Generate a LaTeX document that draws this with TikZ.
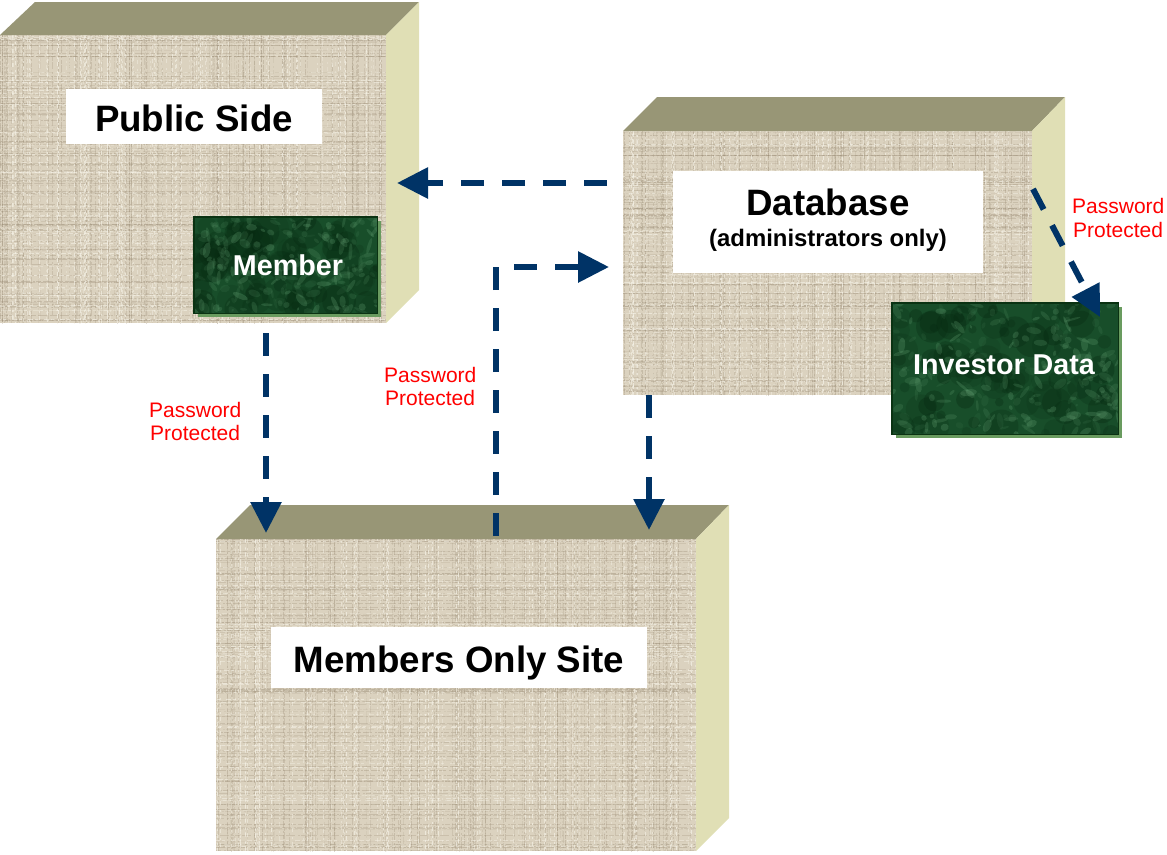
\documentclass[tikz,border=0pt]{standalone}
\usepackage{fontspec}
\setmainfont{Liberation Sans}
\usetikzlibrary{arrows.meta}
\definecolor{linenbase}{RGB}{219,210,191}
\definecolor{linendark}{RGB}{150,135,112}
\definecolor{linenlight}{RGB}{246,243,232}
\definecolor{topface}{RGB}{152,150,118}
\definecolor{sideface}{RGB}{224,223,181}
\definecolor{navy}{RGB}{0,51,102}
\definecolor{dkgreen}{RGB}{24,78,42}
\definecolor{ltgreen}{RGB}{95,155,110}
\definecolor{blackgreen}{RGB}{6,40,16}
\definecolor{shadowgreen}{RGB}{105,155,95}
\definecolor{edgegreen}{RGB}{10,50,18}
\definecolor{pwred}{RGB}{255,0,0}

\newcommand\linentexture[5]{%
  \begin{scope}
    \clip (#1,#2) rectangle (#3,#4);
    \pgfmathsetseed{#5}
    \foreach \i in {1,...,140}{
      \pgfmathsetmacro\xx{#1+rnd*(#3-#1)}
      \pgfmathsetmacro\op{0.08+0.24*rnd}
      \pgfmathsetmacro\ph{rnd*20}
      \draw[linendark, line width=0.8pt, opacity=\op,
            dash pattern=on 7pt off 3pt on 2pt off 2pt on 4pt off 1pt, dash phase=\ph pt]
            (\xx,#2) -- (\xx,#4);
    }
    \foreach \i in {1,...,120}{
      \pgfmathsetmacro\yy{#2+rnd*(#4-#2)}
      \pgfmathsetmacro\op{0.08+0.24*rnd}
      \pgfmathsetmacro\ph{rnd*20}
      \draw[linendark, line width=0.8pt, opacity=\op,
            dash pattern=on 5pt off 2pt on 9pt off 3pt on 2pt off 1pt, dash phase=\ph pt]
            (#1,\yy) -- (#3,\yy);
    }
    \foreach \i in {1,...,110}{
      \pgfmathsetmacro\xx{#1+rnd*(#3-#1)}
      \pgfmathsetmacro\op{0.25+0.45*rnd}
      \pgfmathsetmacro\ph{rnd*20}
      \draw[linenlight, line width=0.8pt, opacity=\op,
            dash pattern=on 4pt off 5pt on 2pt off 3pt, dash phase=\ph pt]
            (\xx,#2) -- (\xx,#4);
    }
    \foreach \i in {1,...,60}{
      \pgfmathsetmacro\yy{#2+rnd*(#4-#2)}
      \pgfmathsetmacro\op{0.20+0.40*rnd}
      \pgfmathsetmacro\ph{rnd*20}
      \draw[linenlight, line width=0.8pt, opacity=\op,
            dash pattern=on 3pt off 6pt on 5pt off 2pt, dash phase=\ph pt]
            (#1,\yy) -- (#3,\yy);
    }
  \end{scope}}

\newcommand\greentexture[5]{%
  \begin{scope}
    \clip (#1,#2) rectangle (#3,#4);
    \pgfmathsetseed{#5}
    \foreach \i in {1,...,90}{
      \pgfmathsetmacro\xx{#1+rnd*(#3-#1)}
      \pgfmathsetmacro\yy{#2+rnd*(#4-#2)}
      \pgfmathsetmacro\rr{4+rnd*14}
      \pgfmathsetmacro\op{0.10+0.25*rnd}
      \fill[blackgreen, opacity=\op] (\xx,\yy) circle[radius=\rr pt];
    }
    \foreach \i in {1,...,220}{
      \pgfmathsetmacro\xx{#1+rnd*(#3-#1)}
      \pgfmathsetmacro\yy{#2+rnd*(#4-#2)}
      \pgfmathsetmacro\ra{1.5+rnd*7}
      \pgfmathsetmacro\rb{1+rnd*3}
      \pgfmathsetmacro\ang{rnd*180}
      \pgfmathsetmacro\op{0.08+0.22*rnd}
      \fill[ltgreen, opacity=\op, rotate around={\ang:(\xx,\yy)}]
        (\xx,\yy) ellipse[x radius=\ra pt, y radius=\rb pt];
    }
  \end{scope}}

\tikzset{
  facefront/.style={rectangle, fill=linenbase, draw=none, inner sep=0pt, anchor=north west},
  toppanel/.style={fill=topface},
  sidepanel/.style={fill=sideface},
  wlabel/.style={rectangle, fill=white, inner sep=0pt},
  bigtxt/.style={font=\fontsize{36.7pt}{40pt}\selectfont\bfseries},
  gbox/.style={rectangle, fill=dkgreen, draw=none, inner sep=0pt, anchor=north west},
  gtxt/.style={text=white, font=\fontsize{28.7pt}{32pt}\selectfont\bfseries, anchor=base, inner sep=0pt},
  pwtext/.style={text=pwred, font=\fontsize{21pt}{24pt}\selectfont, anchor=base west, inner sep=0pt},
  conn/.style={navy, line width=6pt, dash pattern=on 23pt off 18pt,
               -{Triangle[length=31pt,width=30pt]}},
}

\begin{document}
\begin{tikzpicture}[x=1pt,y=-1pt]
\useasboundingbox (0,0) rectangle (1167,854);

% ---------- Public Side ----------
\node[facefront, minimum width=386pt, minimum height=288pt] (pub) at (0,35) {};
\linentexture{0}{35}{386}{323}{11}
\fill[toppanel] (0,35) -- (35,2) -- (419,2) -- (386,35) -- cycle;
\fill[sidepanel] (386,35) -- (419,2) -- (419,290) -- (386,323) -- cycle;
\node[wlabel, bigtxt, minimum width=256pt, text height=42pt, text depth=13pt, anchor=north]
  (publab) at (194,89) {Public Side};

% Member
\fill[shadowgreen] (198,221) rectangle (381,317);
\node[gbox, minimum width=183pt, minimum height=96pt] (member) at (194,217) {};
\greentexture{194}{217}{377}{313}{21}
\draw[edgegreen, line width=1.5pt] (member.south west) rectangle (member.north east);
\node[gtxt] (membertxt) at (288,275) {Member};

% ---------- Database ----------
\node[facefront, minimum width=409pt, minimum height=264pt] (db) at (623,131) {};
\linentexture{623}{131}{1032}{395}{31}
\fill[toppanel] (623,131) -- (657,97) -- (1065,97) -- (1032,131) -- cycle;
\fill[sidepanel] (1032,131) -- (1065,97) -- (1065,361) -- (1032,395) -- cycle;
\node[wlabel, minimum width=310pt, minimum height=102pt, anchor=north west] (dblab) at (673,171) {};
\node[bigtxt, anchor=base, inner sep=0pt] (dbtxt) at (828,215) {Database};
\node[font=\fontsize{23.9pt}{26pt}\selectfont\bfseries, anchor=base, inner sep=0pt] (dbsub) at (828,246) {(administrators only)};

% Investor Data
\fill[shadowgreen] (896,307) rectangle (1122,438);
\node[gbox, minimum width=226pt, minimum height=131pt] (inv) at (892,303) {};
\greentexture{892}{303}{1118}{434}{41}
\draw[edgegreen, line width=1.5pt] (inv.south west) rectangle (inv.north east);
\node[gtxt] (invtxt) at (1004,374) {Investor Data};

% ---------- Members Only Site ----------
\node[facefront, minimum width=480pt, minimum height=312pt] (mos) at (216,539) {};
\linentexture{216}{539}{696}{851}{51}
\fill[toppanel] (216,539) -- (250,505) -- (729,505) -- (696,539) -- cycle;
\fill[sidepanel] (696,539) -- (729,505) -- (729,818) -- (696,851) -- cycle;
\node[wlabel, bigtxt, minimum width=376pt, text height=45pt, text depth=16pt, anchor=north]
  (moslab) at (459,627) {Members Only Site};

% ---------- Connectors ----------
\coordinate (c1s) at (607,183);
\coordinate (c1e) at (397,183);
\coordinate (c2s) at (266,333);
\coordinate (c2e) at (266,533);
\coordinate (c3s) at (496,536);
\coordinate (c3m) at (496,267);
\coordinate (c3e) at (609,267);
\coordinate (c4s) at (649,395);
\coordinate (c4e) at (649,530);
\coordinate (c5s) at (1033,189);
\coordinate (c5e) at (1100,317);

\draw[conn] (c1s) -- (c1e);
\draw[conn] (c2s) -- (c2e);
\draw[conn] (c3s) -- (c3m) -- (c3e);
\draw[conn] (c4s) -- (c4e);
\draw[conn] (c5s) -- (c5e);

% ---------- Labels ----------
\node[pwtext] (pw1a) at (149,417) {Password};
\node[pwtext] (pw1b) at (150,440) {Protected};
\node[pwtext] (pw2a) at (384,382) {Password};
\node[pwtext] (pw2b) at (385,405) {Protected};
\node[pwtext] (pw3a) at (1072,213) {Password};
\node[pwtext] (pw3b) at (1073,237) {Protected};
\end{tikzpicture}
\end{document}
